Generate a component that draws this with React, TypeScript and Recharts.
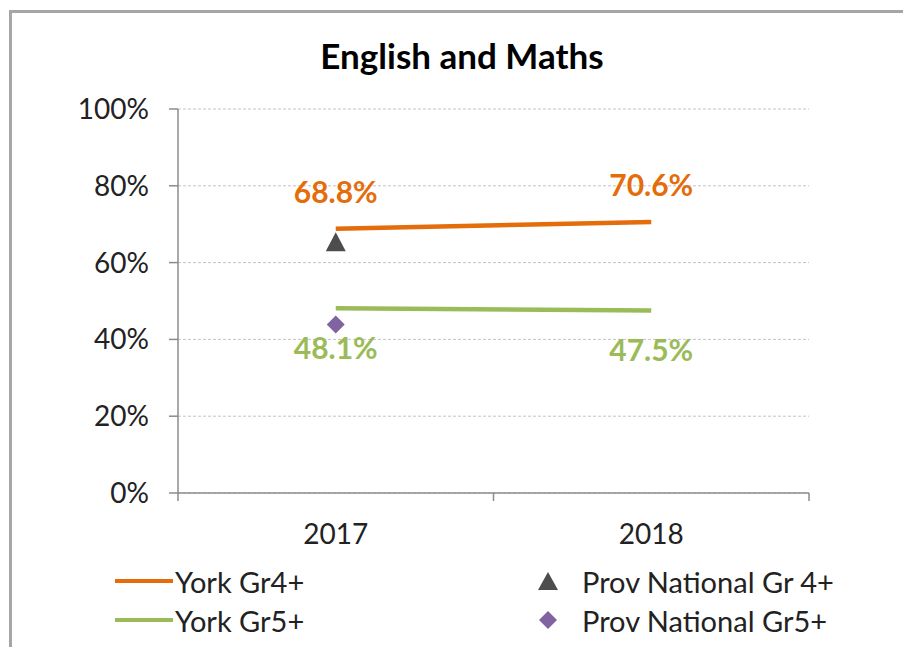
import { ComposedChart, Line, XAxis, YAxis, CartesianGrid, LabelList } from "recharts";

const categories = ["2017", "2018"];
const yorkGr4 = [68.8, 70.6];
const yorkGr5 = [48.1, 47.5];
const provGr4: (number | null)[] = [65.3, null];
const provGr5: (number | null)[] = [43.9, null];
const yTicks = [0, 20, 40, 60, 80, 100];

const ORANGE = "#E46C0A";
const GREEN = "#9BBB59";
const GREY = "#4D4D4D";
const PURPLE = "#8064A2";
const FONT = "Lato, 'Open Sans', sans-serif";

const data = categories.map((cat, i) => ({
  x: i + 0.5,
  cat,
  yorkGr4: yorkGr4[i],
  yorkGr5: yorkGr5[i],
  provGr4: provGr4[i],
  provGr5: provGr5[i],
}));

// ticks at category boundaries, labels at category centres
const xTicks = [0, 0.5, 1, 1.5, 2];

const XTick = ({ x, y, payload }: any) => {
  const v = payload.value;
  if (Number.isInteger(v)) {
    return <line x1={x} x2={x} y1={y} y2={y + 8} stroke="#8c8c8c" strokeWidth={1.5} />;
  }
  return (
    <text x={x} y={y + 40} textAnchor="middle" dominantBaseline="central" fontSize={28} fontFamily={FONT} fill="#222">
      {categories[Math.floor(v)]}
    </text>
  );
};

const TriangleDot = ({ cx, cy }: any) => {
  if (cx == null || cy == null) return null;
  return <polygon points={`${cx - 10},${cy + 9} ${cx + 10},${cy + 9} ${cx},${cy - 10}`} fill={GREY} />;
};

const DiamondDot = ({ cx, cy }: any) => {
  if (cx == null || cy == null) return null;
  return <polygon points={`${cx},${cy - 9} ${cx + 9},${cy} ${cx},${cy + 9} ${cx - 9},${cy}`} fill={PURPLE} />;
};

const legendItems = [
  { label: "York Gr4+", kind: "line", color: ORANGE, left: 115, top: 581 },
  { label: "York Gr5+", kind: "line", color: GREEN, left: 115, top: 620 },
  { label: "Prov National Gr 4+", kind: "triangle", color: GREY, left: 537, top: 581 },
  { label: "Prov National Gr5+", kind: "diamond", color: PURPLE, left: 537, top: 620 },
];

export default function App() {
  return (
    <div style={{ position: "fixed", left: 0, top: 0, width: 903, height: 647, overflow: "hidden", background: "#fff", fontFamily: FONT }}>
      <div style={{ position: "absolute", left: 9, top: 10, width: 1000, height: 800, border: "3px solid #a6a6a6", boxSizing: "border-box" }} />
      <div style={{ position: "absolute", left: 0, width: 924, top: 34, textAlign: "center", fontSize: 35, fontWeight: 700, color: "#000" }}>
        English and Maths
      </div>
      <div style={{ position: "absolute", left: 0, top: 0 }}>
        <ComposedChart width={903} height={647} data={data} margin={{ top: 109, right: 94, bottom: 94, left: 0 }}>
          <CartesianGrid vertical={false} stroke="#c4c4c4" strokeDasharray="3 2" />
          <XAxis
            type="number"
            dataKey="x"
            domain={[0, 2]}
            ticks={xTicks}
            tick={<XTick />}
            tickLine={false}
            tickSize={0}
            tickMargin={0}
            height={60}
            axisLine={{ stroke: "#8c8c8c", strokeWidth: 1.5 }}
          />
          <YAxis
            type="number"
            domain={[0, 100]}
            ticks={yTicks}
            width={178}
            tickSize={9}
            tickMargin={20}
            tickFormatter={(v: number) => `${v}%`}
            tick={{ fontSize: 28, fontFamily: FONT, fill: "#222" }}
            tickLine={{ stroke: "#8c8c8c", strokeWidth: 1.5 }}
            axisLine={{ stroke: "#8c8c8c", strokeWidth: 1.5 }}
          />
          <Line dataKey="yorkGr4" stroke={ORANGE} strokeWidth={4.5} dot={false} isAnimationActive={false}>
            <LabelList
              dataKey="yorkGr4"
              position="top"
              offset={26}
              formatter={(v: number) => `${v.toFixed(1)}%`}
              style={{ fontSize: 30, fontWeight: 700, fontFamily: FONT, fill: ORANGE }}
            />
          </Line>
          <Line dataKey="yorkGr5" stroke={GREEN} strokeWidth={4.5} dot={false} isAnimationActive={false}>
            <LabelList
              dataKey="yorkGr5"
              position="bottom"
              offset={29}
              formatter={(v: number) => `${v.toFixed(1)}%`}
              style={{ fontSize: 30, fontWeight: 700, fontFamily: FONT, fill: GREEN }}
            />
          </Line>
          <Line dataKey="provGr4" stroke="none" dot={<TriangleDot />} activeDot={false} isAnimationActive={false} />
          <Line dataKey="provGr5" stroke="none" dot={<DiamondDot />} activeDot={false} isAnimationActive={false} />
        </ComposedChart>
      </div>
      {legendItems.map((it) => (
        <div key={it.label} style={{ position: "absolute", left: it.left, top: it.top - 18, height: 36, display: "flex", alignItems: "center", fontSize: 29, color: "#222", whiteSpace: "nowrap" }}>
          {it.kind === "line" ? (
            <span style={{ display: "inline-block", width: 58, height: 4, background: it.color, marginRight: 2 }} />
          ) : (
            <svg width={22} height={22} style={{ marginRight: 23 }}>
              {it.kind === "triangle" ? (
                <polygon points="1,20 21,20 11,2" fill={it.color} />
              ) : (
                <polygon points="11,2 20,11 11,20 2,11" fill={it.color} />
              )}
            </svg>
          )}
          {it.label}
        </div>
      ))}
    </div>
  );
}
